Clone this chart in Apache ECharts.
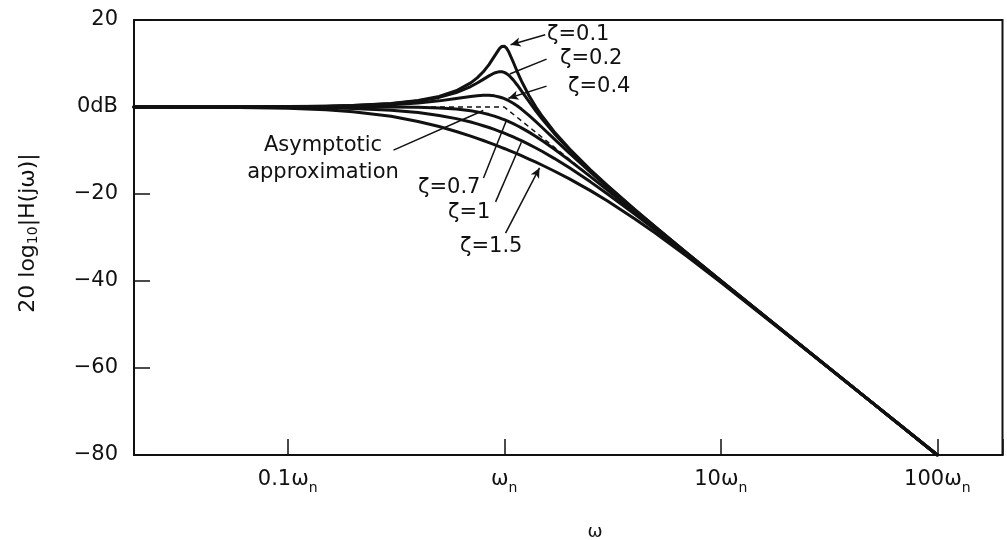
<!DOCTYPE html>
<html>
<head>
<meta charset="utf-8">
<script src="https://cdn.jsdelivr.net/npm/echarts@6/dist/echarts.min.js"></script>
<style>html,body{margin:0;padding:0;background:#fff;}#c{width:1007px;height:540px;}</style>
</head>
<body>
<div id="c"></div>
<script>
// frequency points (in units of ω_n)
const omega = [0.0195, 0.05, 0.1, 0.15, 0.2, 0.3, 0.4, 0.5, 0.6, 0.7, 0.75, 0.8, 0.85, 0.9, 0.95, 0.975, 1.0, 1.025, 1.05, 1.1, 1.15, 1.2, 1.3, 1.4, 1.5, 1.7, 2, 2.5, 3, 4, 5, 7, 10, 20, 50, 100];
// magnitude in dB for each damping ratio
const z01 = [0.00, 0.02, 0.09, 0.19, 0.35, 0.80, 1.48, 2.42, 3.73, 5.53, 6.70, 8.09, 9.75, 11.64, 13.41, 13.93, 13.98, 13.51, 12.63, 10.34, 8.04, 6.00, 2.65, 0.00, -2.18, -5.67, -9.62, -14.44, -18.09, -23.53, -27.61, -33.63, -39.91, -52.02, -67.96, -80.00];
const z02 = [0.00, 0.02, 0.08, 0.18, 0.32, 0.74, 1.36, 2.20, 3.31, 4.70, 5.51, 6.35, 7.15, 7.81, 8.13, 8.11, 7.96, 7.68, 7.28, 6.24, 5.01, 3.73, 1.27, -0.92, -2.84, -6.06, -9.84, -14.56, -18.16, -23.57, -27.63, -33.64, -39.92, -52.02, -67.96, -80.00];
const z04 = [0.00, 0.02, 0.06, 0.13, 0.24, 0.53, 0.93, 1.41, 1.94, 2.41, 2.59, 2.68, 2.68, 2.56, 2.31, 2.14, 1.94, 1.71, 1.45, 0.87, 0.22, -0.47, -1.93, -3.38, -4.77, -7.34, -10.63, -14.99, -18.44, -23.72, -27.72, -33.68, -39.94, -52.03, -67.96, -80.00];
const z07 = [0.00, 0.00, 0.00, 0.00, 0.00, -0.02, -0.08, -0.22, -0.47, -0.87, -1.12, -1.41, -1.74, -2.11, -2.50, -2.71, -2.92, -3.14, -3.37, -3.83, -4.31, -4.79, -5.78, -6.78, -7.76, -9.66, -12.26, -16.00, -19.12, -24.09, -27.96, -33.80, -40.00, -52.04, -67.96, -80.00];
const z10 = [0.00, -0.02, -0.09, -0.19, -0.34, -0.75, -1.29, -1.94, -2.67, -3.46, -3.88, -4.30, -4.72, -5.15, -5.59, -5.80, -6.02, -6.24, -6.45, -6.89, -7.32, -7.75, -8.60, -9.43, -10.24, -11.80, -13.98, -17.21, -20.00, -24.61, -28.30, -33.98, -40.09, -52.06, -67.96, -80.00];
const z15 = [-0.01, -0.08, -0.29, -0.64, -1.08, -2.14, -3.32, -4.49, -5.62, -6.69, -7.21, -7.70, -8.18, -8.65, -9.10, -9.32, -9.54, -9.76, -9.97, -10.39, -10.79, -11.19, -11.96, -12.69, -13.39, -14.71, -16.53, -19.23, -21.61, -25.67, -29.04, -34.39, -40.29, -52.12, -67.97, -80.00];
// asymptotic approximation
const asymOmega = [0.0195, 1, 100];
const asymDb = [0, 0, -80];
// tick labels
const xTickValues = [0.1, 1, 10, 100];
const xTickLabels = ['0.1', '', '10', '100'];
const yTickValues = [20, 0, -20, -40, -60, -80];
const yTickLabels = ['20', '0dB', '\u221220', '\u221240', '\u221260', '\u221280'];

const FONT = 'DejaVu Sans';
const INK = '#111';

function pairs(xs, ys) { return xs.map((x, i) => [x, ys[i]]); }
function curve(name, ys) {
  return {
    name, type: 'line', data: pairs(omega, ys), showSymbol: false,
    smooth: false, clip: true,
    lineStyle: { color: INK, width: 3, join: 'round', cap: 'round' }, z: 3
  };
}

const chart = echarts.init(document.getElementById('c'), null, { renderer: 'canvas' });

const leaders = [
  [[1.546, 16.6], [1.07, 14.3], true],
  [[1.568, 11.0], [1.06, 7.6], false],
  [[1.568, 4.8], [1.045, 2.0], true],
  [[0.308, -9.9], [0.80, -0.8], false],
  [[0.802, -16.3], [1.025, -3.0], false],
  [[0.912, -21.8], [1.20, -8.1], false],
  [[1.014, -29.0], [1.455, -14.0], true]
];

const option = {
  animation: false,
  backgroundColor: '#fff',
  grid: { left: 134, right: 4.5, top: 20, bottom: 85, show: true, borderColor: INK, borderWidth: 2, backgroundColor: 'transparent' },
  xAxis: {
    type: 'log', logBase: 10, min: 0.0195, max: 200,
    axisLine: { show: true, onZero: false, lineStyle: { color: INK, width: 2 } },
    axisTick: { show: true, inside: true, length: 16, lineStyle: { color: INK, width: 1.5 } },
    splitLine: { show: false },
    axisLabel: {
      margin: 10, color: INK, fontFamily: FONT, fontSize: 21,
      formatter: function (v) {
        for (let i = 0; i < xTickValues.length; i++) {
          if (Math.abs(v - xTickValues[i]) / xTickValues[i] < 1e-6) {
            return (xTickLabels[i] ? '{m|' + xTickLabels[i] + '}' : '') + '{m|\u03c9}{s|n}';
          }
        }
        return '';
      },
      rich: {
        m: { fontFamily: FONT, fontSize: 21, color: INK, lineHeight: 30, verticalAlign: 'middle' },
        s: { fontFamily: FONT, fontSize: 14, color: INK, lineHeight: 14, verticalAlign: 'bottom' }
      }
    }
  },
  yAxis: {
    type: 'value', min: -80, max: 20, interval: 20,
    axisLine: { show: true, onZero: false, lineStyle: { color: INK, width: 2 } },
    axisTick: { show: true, inside: true, length: 16, lineStyle: { color: INK, width: 1.5 } },
    splitLine: { show: false },
    axisLabel: {
      margin: 16, color: INK, fontFamily: FONT, fontSize: 21,
      formatter: function (v) {
        const i = yTickValues.indexOf(v);
        return i >= 0 ? yTickLabels[i] : '';
      }
    }
  },
  series: [
    curve('\u03b6=1.5', z15),
    curve('\u03b6=1', z10),
    curve('\u03b6=0.7', z07),
    curve('\u03b6=0.4', z04),
    curve('\u03b6=0.2', z02),
    curve('\u03b6=0.1', z01),
    {
      name: 'Asymptotic approximation', type: 'line', data: pairs(asymOmega, asymDb),
      showSymbol: false, lineStyle: { color: INK, width: 1.5, type: [5, 4] }, z: 4
    },
    {
      name: 'leaders', type: 'line', data: [], z: 5,
      markLine: {
        silent: true, animation: false, symbol: ['none', 'none'],
        label: { show: false },
        lineStyle: { color: INK, width: 1.5, type: 'solid' },
        data: leaders.map(l => [
          { coord: l[0], symbol: 'none' },
          { coord: l[1], symbol: l[2] ? 'arrow' : 'none', symbolSize: [7, 10] }
        ])
      }
    }
  ],
  graphic: [
    { type: 'text', left: 547, top: 24, style: { text: '\u03b6=0.1', font: '21px "DejaVu Sans"', fill: INK } },
    { type: 'text', left: 560, top: 48, style: { text: '\u03b6=0.2', font: '21px "DejaVu Sans"', fill: INK } },
    { type: 'text', left: 568, top: 76, style: { text: '\u03b6=0.4', font: '21px "DejaVu Sans"', fill: INK } },
    { type: 'text', left: 418, top: 177, style: { text: '\u03b6=0.7', font: '21px "DejaVu Sans"', fill: INK } },
    { type: 'text', left: 448, top: 202, style: { text: '\u03b6=1', font: '21px "DejaVu Sans"', fill: INK } },
    { type: 'text', left: 460, top: 236, style: { text: '\u03b6=1.5', font: '21px "DejaVu Sans"', fill: INK } },
    { type: 'text', x: 323, y: 159, style: { text: 'Asymptotic\napproximation', font: '21px "DejaVu Sans"', fill: INK, align: 'center', verticalAlign: 'middle', lineHeight: 27 } },
    { type: 'text', x: 595, y: 532, style: { text: '\u03c9', font: '18px "DejaVu Sans"', fill: INK, align: 'center', verticalAlign: 'middle' } },
    {
      type: 'text', x: 28, y: 233, rotation: Math.PI / 2,
      style: {
        text: '20 log{s|10}|H(j\u03c9)|', font: '22px "DejaVu Sans"', fill: INK, align: 'center', verticalAlign: 'middle',
        rich: { s: { fontFamily: FONT, fontSize: 14, fill: INK, padding: [10, 0, 0, 0] } }
      }
    }
  ]
};
chart.setOption(option);
</script>
</body>
</html>
